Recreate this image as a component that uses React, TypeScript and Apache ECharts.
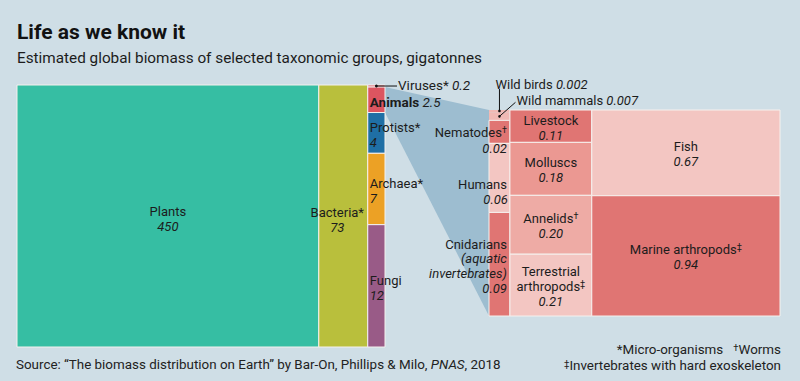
import React, { useEffect, useRef } from "react";
import * as echarts from "echarts";

// ---------- data ----------
const mainNames = ["Plants", "Bacteria*", "Viruses*", "Animals", "Protists*", "Archaea*", "Fungi"];
const mainValues = [450, 73, 0.2, 2.5, 4, 7, 12];
const mainValueLabels = ["450", "73", "0.2", "2.5", "4", "7", "12"];
const mainColumns = [0, 1, 2, 2, 2, 2, 2];

const animalNames = [
  "Wild birds", "Wild mammals", "Nematodes", "Humans", "Cnidarians",
  "Livestock", "Molluscs", "Annelids", "Terrestrial arthropods",
  "Fish", "Marine arthropods",
];
const animalValues = [0.002, 0.007, 0.02, 0.06, 0.09, 0.11, 0.18, 0.2, 0.21, 0.67, 0.94];
const animalValueLabels = ["0.002", "0.007", "0.02", "0.06", "0.09", "0.11", "0.18", "0.20", "0.21", "0.67", "0.94"];
const animalColumns = [0, 0, 0, 0, 0, 1, 1, 1, 1, 2, 2];

const titleText = "Life as we know it";
const subtitleText = "Estimated global biomass of selected taxonomic groups, gigatonnes";

// ---------- styles ----------
const FONT = "Roboto, 'Noto Sans', sans-serif";
const TXT = "#1c1c1c";
const BG = "#cfdee6";
const mainColors: Record<string, string> = {
  "Plants": "#36bea3",
  "Bacteria*": "#b9bf3c",
  "Viruses*": "#dc5560",
  "Animals": "#dc5560",
  "Protists*": "#1f6fa5",
  "Archaea*": "#eca125",
  "Fungi": "#995b87",
};
const DARK = "#e07573";
const MID = "#eb9892";
const MIDL = "#eeaba5";
const LIGHT = "#f3c6c2";
const animalColors: Record<string, string> = {
  "Wild birds": "#f0b9b4",
  "Wild mammals": "#f0b9b4",
  "Nematodes": DARK,
  "Humans": LIGHT,
  "Cnidarians": DARK,
  "Livestock": DARK,
  "Molluscs": MID,
  "Annelids": MIDL,
  "Terrestrial arthropods": LIGHT,
  "Fish": LIGHT,
  "Marine arthropods": DARK,
};

// slice-and-dice layout: columns along x (value units), stacked fractions along y
function layout(values: number[], cols: number[]) {
  const nCols = Math.max(...cols) + 1;
  const colSums = new Array(nCols).fill(0);
  values.forEach((v, i) => (colSums[cols[i]] += v));
  const colStart: number[] = [];
  let acc = 0;
  colSums.forEach((s, c) => {
    colStart[c] = acc;
    acc += s;
  });
  const yAcc = new Array(nCols).fill(0);
  const items = values.map((v, i) => {
    const c = cols[i];
    const y0 = yAcc[c] / colSums[c];
    yAcc[c] += v;
    const y1 = yAcc[c] / colSums[c];
    return [colStart[c], colStart[c] + colSums[c], y0, y1, i];
  });
  return { total: acc, items };
}

const mainLayout = layout(mainValues, mainColumns);
const animalLayout = layout(animalValues, animalColumns);

const txt = (x: number, y: number, text: string, align: string, extra: any = {}) => ({
  type: "text",
  z2: 10,
  x,
  y,
  style: {
    text,
    fill: TXT,
    fontFamily: FONT,
    fontSize: 13,
    align,
    verticalAlign: "middle",
    ...extra,
  },
});

const richStyles = (size: number) => ({
  n: { fontFamily: FONT, fontSize: size, fill: TXT, color: TXT },
  b: { fontFamily: FONT, fontSize: size, fontWeight: "bold", fill: TXT, color: TXT },
  i: { fontFamily: FONT, fontSize: size, fontStyle: "italic", fill: TXT, color: TXT },
  s: { fontFamily: FONT, fontSize: 9, fill: TXT, color: TXT, padding: [0, 0, 5, 0] },
});

function linesEls(x: number, cy: number, lines: { t: string; it?: boolean; rich?: boolean }[], align: string, lh: number) {
  const n = lines.length;
  return lines.map((l, k) => {
    const y = cy + (k - (n - 1) / 2) * lh;
    if (l.rich) return txt(x, y, l.t, align, { rich: richStyles(13) });
    return txt(x, y, l.t, align, l.it ? { fontStyle: "italic" } : {});
  });
}

function rectGeom(api: any) {
  const p0 = api.coord([api.value(0), api.value(2)]);
  const p1 = api.coord([api.value(1), api.value(3)]);
  return { x0: p0[0], y0: p0[1], x1: p1[0], y1: p1[1] };
}

function renderMain(params: any, api: any) {
  const idx = api.value(4);
  const name = mainNames[idx];
  const val = mainValueLabels[idx];
  const { x0, y0, x1, y1 } = rectGeom(api);
  const cx = (x0 + x1) / 2;
  const cy = (y0 + y1) / 2;
  const children: any[] = [
    {
      type: "rect",
      shape: { x: x0, y: y0, width: x1 - x0, height: y1 - y0 },
      style: { fill: mainColors[name], stroke: "#f4f1ee", lineWidth: 1 },
    },
  ];
  if (name === "Plants") {
    children.push(...linesEls(cx, cy + 3, [{ t: name }, { t: val, it: true }], "center", 14.5));
  } else if (name === "Bacteria*") {
    children.push(...linesEls(cx - 6, cy + 4, [{ t: name }, { t: val, it: true }], "center", 15));
  } else if (name === "Viruses*") {
    children.push({ type: "circle", z2: 10, shape: { cx, cy, r: 1.4 }, style: { fill: "#111" } });
    children.push({ type: "line", z2: 10, shape: { x1: cx, y1: cy, x2: x1 + 12, y2: cy }, style: { stroke: "#111", lineWidth: 1 } });
    children.push(txt(x1 + 13, cy - 1, `{n|${name}} {i|${val}}`, "left", { rich: richStyles(13.5) }));
  } else if (name === "Animals") {
    children.push(txt(x0 + 2, cy + 2, `{b|${name}} {i|${val}}`, "left", { rich: richStyles(13.5) }));
  } else {
    children.push(...linesEls(x0 + 2, cy + 2, [{ t: name }, { t: val, it: true }], "left", 15));
  }
  return { type: "group", children };
}

function renderAnimals(params: any, api: any) {
  const idx = api.value(4);
  const name = animalNames[idx];
  const val = animalValueLabels[idx];
  const { x0, y0, x1, y1 } = rectGeom(api);
  const cx = (x0 + x1) / 2;
  const cy = (y0 + y1) / 2;
  const tiny = name === "Wild birds" || name === "Wild mammals";
  const children: any[] = [
    {
      type: "rect",
      shape: { x: x0, y: y0, width: x1 - x0, height: y1 - y0 },
      style: { fill: animalColors[name], stroke: tiny ? undefined : "#f6f1ee", lineWidth: tiny ? 0 : 1 },
    },
  ];
  if (name === "Wild birds") {
    children.push({ type: "line", z2: 10, shape: { x1: cx, y1: y0 + 1, x2: cx, y2: y0 - 21 }, style: { stroke: "#111", lineWidth: 1 } });
    children.push({ type: "circle", z2: 10, shape: { cx, cy: y0 + 1, r: 1.3 }, style: { fill: "#111" } });
    children.push(txt(cx - 4, y0 - 26, `{n|${name}} {i|${val}}`, "left", { rich: richStyles(13) }));
  } else if (name === "Wild mammals") {
    children.push({ type: "line", z2: 10, shape: { x1: cx, y1: cy, x2: cx + 16, y2: cy - 14 }, style: { stroke: "#111", lineWidth: 1 } });
    children.push({ type: "circle", z2: 10, shape: { cx, cy, r: 1.3 }, style: { fill: "#111" } });
    children.push(txt(cx + 17, cy - 16, `{n|${name}} {i|${val}}`, "left", { rich: richStyles(13) }));
  } else if (name === "Nematodes") {
    children.push(txt(x1 - 3, cy + 1, `{n|${name}}{s|†}`, "right", { rich: richStyles(13) }));
    children.push(txt(x1 - 3, cy + 17, val, "right", { fontStyle: "italic" }));
  } else if (name === "Humans") {
    children.push(txt(x1 - 3, y1 - 28, name, "right"));
    children.push(txt(x1 - 2, y1 - 13, val, "right", { fontStyle: "italic" }));
  } else if (name === "Cnidarians") {
    children.push(
      ...linesEls(x1 - 3, cy + 2, [{ t: name }, { t: "(aquatic", it: true }, { t: "invertebrates)", it: true }, { t: val, it: true }], "right", 14.7)
    );
  } else if (name === "Terrestrial arthropods") {
    children.push(
      ...linesEls(cx, cy + 1, [{ t: "Terrestrial" }, { t: "{n|arthropods}{s|‡}", rich: true }, { t: val, it: true }], "center", 15)
    );
  } else if (name === "Annelids") {
    children.push(...linesEls(cx, cy + 1.5, [{ t: "{n|Annelids}{s|†}", rich: true }, { t: val, it: true }], "center", 15));
  } else if (name === "Marine arthropods") {
    children.push(...linesEls(cx, cy + 1.5, [{ t: "{n|Marine arthropods}{s|‡}", rich: true }, { t: val, it: true }], "center", 15));
  } else {
    children.push(...linesEls(cx, cy + 1.5, [{ t: name }, { t: val, it: true }], "center", 15));
  }
  return { type: "group", children };
}

export default function App() {
  const ref = useRef<HTMLDivElement>(null);
  useEffect(() => {
    if (!ref.current) return;
    const chart = echarts.init(ref.current, undefined, { renderer: "svg" });
    chart.setOption({
      animation: false,
      backgroundColor: BG,
      grid: [
        { left: 17, top: 85, width: 368, height: 262 },
        { left: 489, top: 110, width: 291, height: 206 },
      ],
      xAxis: [
        { type: "value", gridIndex: 0, min: 0, max: mainLayout.total, show: false },
        { type: "value", gridIndex: 1, min: 0, max: animalLayout.total, show: false },
      ],
      yAxis: [
        { type: "value", gridIndex: 0, min: 0, max: 1, inverse: true, show: false },
        { type: "value", gridIndex: 1, min: 0, max: 1, inverse: true, show: false },
      ],
      series: [
        {
          type: "custom",
          xAxisIndex: 0,
          yAxisIndex: 0,
          clip: false,
          renderItem: renderMain,
          encode: { x: [0, 1], y: [2, 3] },
          data: mainLayout.items,
          z: 3,
        },
        {
          type: "custom",
          xAxisIndex: 1,
          yAxisIndex: 1,
          clip: false,
          renderItem: renderAnimals,
          encode: { x: [0, 1], y: [2, 3] },
          data: animalLayout.items,
          z: 3,
        },
      ],
    });

    // connector trapezoid from the Animals cell to the inset
    const a = mainLayout.items[mainNames.indexOf("Animals")];
    const tl = chart.convertToPixel({ gridIndex: 0 }, [a[1], a[2]]) as number[];
    const bl = chart.convertToPixel({ gridIndex: 0 }, [a[1], a[3]]) as number[];
    const tr = chart.convertToPixel({ gridIndex: 1 }, [0, 0]) as number[];
    const br = chart.convertToPixel({ gridIndex: 1 }, [0, 1]) as number[];

    const foot = {
      n: { fontFamily: FONT, fontSize: 13.4, fill: "#222" },
      i: { fontFamily: FONT, fontSize: 13.4, fontStyle: "italic", fill: "#222" },
      s: { fontFamily: FONT, fontSize: 9.5, fill: "#222", padding: [0, 0, 4, 0] },
    };

    chart.setOption({
      graphic: [
        {
          type: "polygon",
          z: 1,
          shape: { points: [[tl[0], tl[1]], [tr[0], tr[1]], [br[0], br[1]], [bl[0], bl[1]]] },
          style: { fill: "#9dbdd0" },
        },
        {
          type: "text",
          left: 17,
          top: 21,
          style: { text: titleText, fontFamily: FONT, fontSize: 21, fontWeight: "bold", fill: "#121212" },
        },
        {
          type: "text",
          left: 17,
          top: 50,
          style: { text: subtitleText, fontFamily: FONT, fontSize: 15.3, fill: "#1c1c1c" },
        },
        {
          type: "text",
          left: 16,
          top: 358,
          style: {
            text: "{n|Source: “The biomass distribution on Earth” by Bar-On, Phillips & Milo, }{i|PNAS}{n|, 2018}",
            rich: foot,
          },
        },
        {
          type: "text",
          right: 19,
          top: 342,
          style: { text: "{n|*Micro-organisms}   {s|†}{n|Worms}", rich: foot },
        },
        {
          type: "text",
          right: 19,
          top: 358,
          style: { text: "{s|‡}{n|Invertebrates with hard exoskeleton}", rich: foot },
        },
      ],
    });

    return () => chart.dispose();
  }, []);
  return <div ref={ref} style={{ position: "fixed", left: 0, top: 0, width: 800, height: 381 }} />;
}
